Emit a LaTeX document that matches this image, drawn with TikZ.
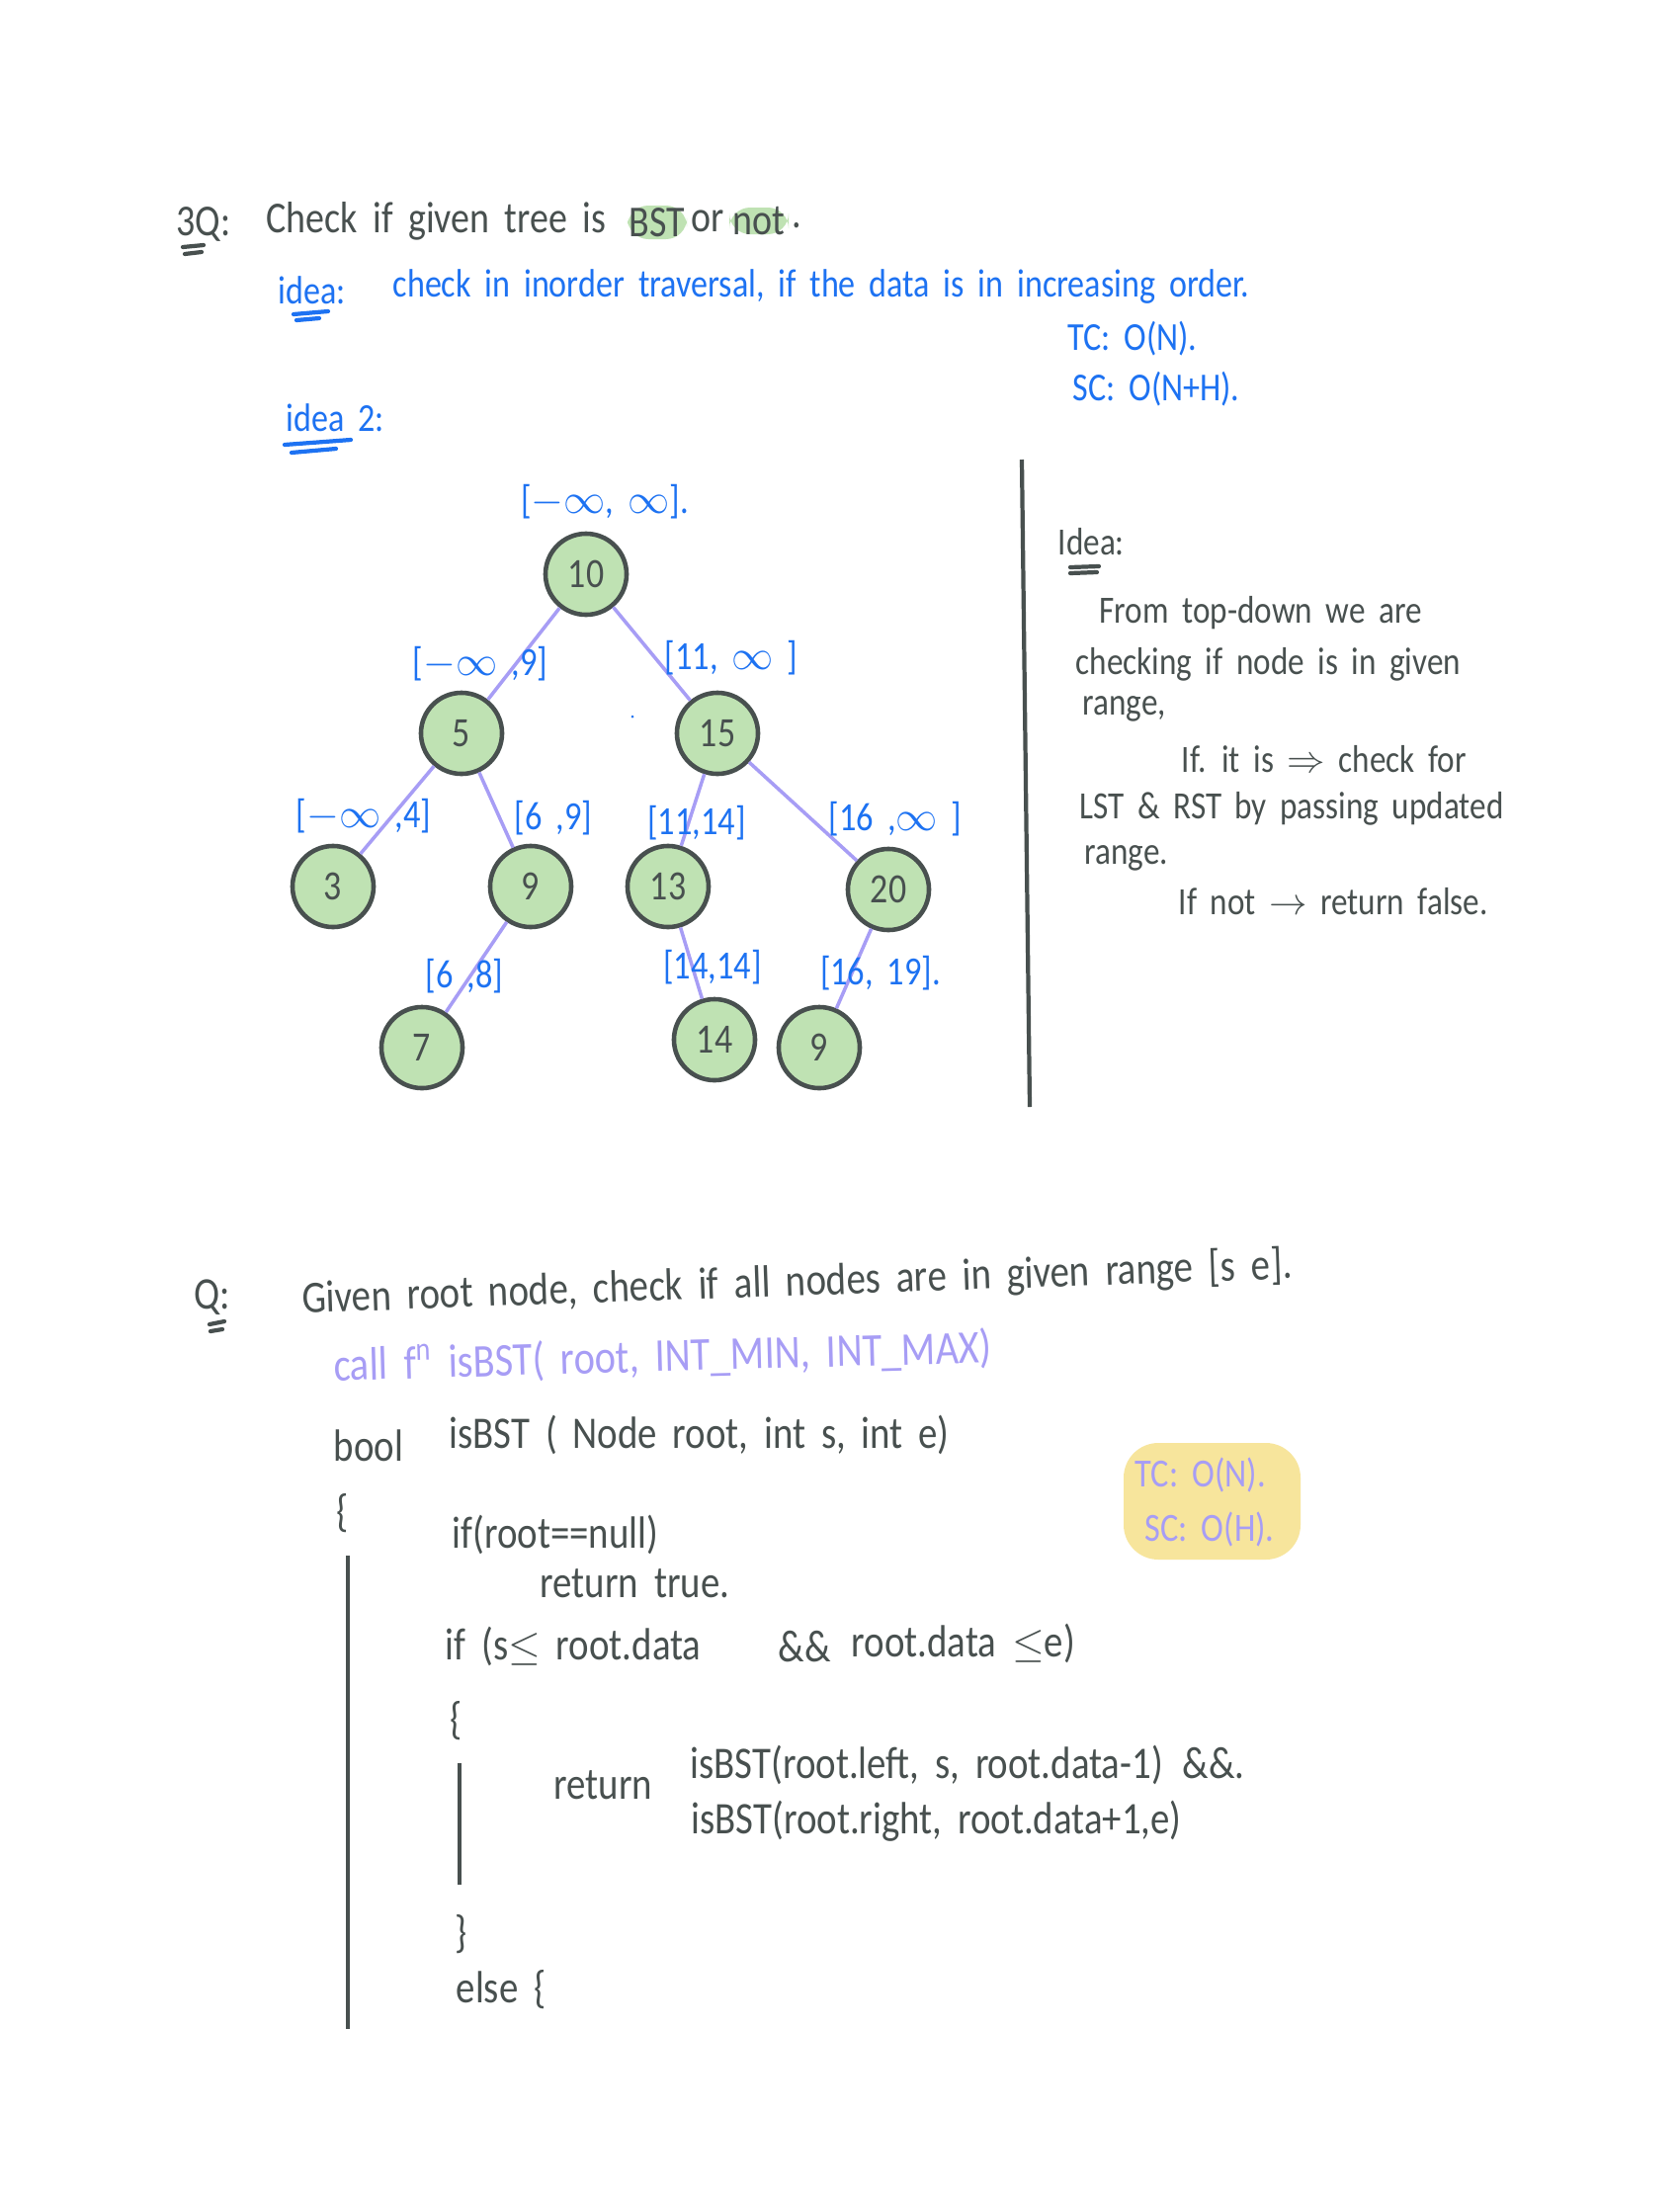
\documentclass[tikz,border=0pt]{standalone}
\usepackage{fontspec}
\setmainfont{Carlito}[FakeStretch=0.85,WordSpace=1.8]
\usetikzlibrary{positioning}

\definecolor{inkgray}{HTML}{48504F}
\definecolor{inkblue}{HTML}{1D72F2}
\definecolor{lavender}{HTML}{A79DF5}
\definecolor{nodegreen}{HTML}{BFE2B3}
\definecolor{notepad}{HTML}{F7E59C}

\begin{document}
\begin{tikzpicture}[x=0.01cm,y=-0.01cm,
    treenode/.style={circle,draw=inkgray,fill=nodegreen,line width=1.3pt,
      minimum size=0.82cm,inner sep=0pt,text=inkgray,font=\fontsize{12}{14}\selectfont},
    treeedge/.style={lavender,line width=1pt},
    rangelabel/.style={text=inkblue,inner sep=0pt,font=\fontsize{11.5}{14}\selectfont},
    titletext/.style={text=inkgray,anchor=west,inner sep=0pt,font=\fontsize{12.7}{15}\selectfont},
    bluetext/.style={text=inkblue,anchor=west,inner sep=0pt,font=\fontsize{11.4}{14}\selectfont},
    notetext/.style={text=inkgray,anchor=west,inner sep=0pt,font=\fontsize{11.1}{13}\selectfont},
    codetext/.style={text=inkgray,anchor=west,inner sep=0pt,font=\fontsize{13}{15}\selectfont},
    calltext/.style={text=lavender,anchor=west,inner sep=0pt,font=\fontsize{13.5}{16}\selectfont},
    boxtext/.style={text=lavender,anchor=west,inner sep=0pt,font=\fontsize{11.5}{14}\selectfont},
    markline/.style={line width=1.2pt,line cap=round}]
  \useasboundingbox[fill=white] (0,0) rectangle (1700,2224);

  % Question heading
  \node[titletext] (q3) at (178,227) {3Q:};
  \draw[markline,inkgray] (185,250) -- (206,248) (187,257) -- (204,255);
  \fill[nodegreen,rounded corners=6pt] (635,208) rectangle (695,242);
  \fill[nodegreen,rounded corners=6pt] (738,210) rectangle (798,237);
  \node[titletext] (ask) at (269,224) {Check if given tree is};
  \node[titletext,anchor=center] (bst) at (665,225) {BST};
  \node[titletext,anchor=center] (or) at (716,224) {or};
  \node[titletext,anchor=center] (not) at (768,224) {not};
  \node[titletext] (dot) at (801,228) {.};

  % First idea
  \node[bluetext] (idea) at (281,294) {idea:};
  \draw[markline,inkblue] (297,318) -- (332,315) (300,324) -- (323,322);
  \node[bluetext] (inorder) at (397,290) {check in inorder traversal, if the data is in increasing order.};
  \node[bluetext] (tc1) at (1080,343) {TC: O(N).};
  \node[bluetext] (sc1) at (1085,394) {SC: O(N+H).};

  % Second idea
  \node[bluetext] (idea2) at (289,423) {idea 2:};
  \draw[markline,inkblue] (288,450) -- (355,445) (295,458) -- (340,454);
  \draw[inkgray,line width=1.2pt] (1034,465) -- (1042,1120);

  % Tree
  \node[treenode] (n10) at (593,581) {10};
  \node[treenode] (n5) at (467,742) {5};
  \node[treenode] (n15) at (726,742) {15};
  \node[treenode] (n3) at (337,897) {3};
  \node[treenode] (n9) at (537,897) {9};
  \node[treenode] (n13) at (676,897) {13};
  \node[treenode] (n20) at (899,900) {20};
  \node[treenode] (n7) at (427,1060) {7};
  \node[treenode] (n14) at (723,1052) {14};
  \node[treenode] (n9b) at (829,1060) {9};
  \foreach \a/\b in {n10/n5,n10/n15,n5/n3,n5/n9,n15/n13,n15/n20,n9/n7,n13/n14,n20/n9b}
    \draw[treeedge] (\a) -- (\b);

  % Ranges passed down
  \node[rangelabel] (r10) at (612,508) {[$-\infty$, $\infty$].};
  \node[rangelabel] (r5) at (486,672) {[$-\infty$ ,9]};
  \node[rangelabel] (r15) at (740,666) {[11, $\infty$ ]};
  \node[rangelabel] (r3) at (368,826) {[$-\infty$ ,4]};
  \node[rangelabel] (r9) at (560,828) {[6 ,9]};
  \node[rangelabel] (r13) at (705,833) {[11,14]};
  \node[rangelabel] (r20) at (906,829) {[16 ,$\infty$ ]};
  \node[rangelabel] (r7) at (470,988) {[6 ,8]};
  \node[rangelabel] (r14) at (721,979) {[14,14]};
  \node[rangelabel] (r9b) at (891,985) {[16, 19].};
  \fill[inkblue] (640,725) circle (1.5);

  % Right-hand note
  \node[notetext] (idea3) at (1070,548) {Idea:};
  \draw[markline,inkgray] (1083,574) -- (1112,573) (1083,580) -- (1110,579);
  \node[notetext] (l1) at (1112,620) {From top-down we are};
  \node[notetext] (l2) at (1088,672) {checking if node is in given};
  \node[notetext] (l3) at (1095,717) {range,};
  \node[notetext] (l4) at (1195,768) {If. it is $\Rightarrow$ check for};
  \node[notetext] (l5) at (1092,818) {LST \& RST by passing updated};
  \node[notetext] (l6) at (1097,868) {range.};
  \node[notetext] (l7) at (1192,912) {If not $\rightarrow$ return false.};

  % Range question
  \node[codetext] (q) at (196,1313) {Q:};
  \draw[markline,inkgray] (212,1340) -- (227,1337) (213,1347) -- (225,1345);
  \node[codetext,rotate=2] (given) at (305,1316) {Given root node, check if all nodes are in given range [s e].};
  \node[calltext,rotate=1.6] (call) at (337,1383) {call f\textsuperscript{n} isBST( root, INT\_MIN, INT\_MAX)};

  % Function body
  \node[codetext] (bool) at (337,1463) {bool};
  \node[codetext] (sig) at (454,1452) {isBST ( Node root, int s, int e)};
  \node[codetext] (open1) at (340,1531) {\{};
  \draw[inkgray,line width=1.2pt] (352,1574) -- (352,2053);
  \node[codetext] (ifnull) at (457,1553) {if(root==null)};
  \node[codetext] (rettrue) at (546,1602) {return true.};
  \node[codetext] (ifrange) at (450,1666) {if (s$\le$ root.data};
  \node[codetext] (andand) at (787,1666) {\&\&};
  \node[codetext] (upper) at (861,1663) {root.data $\le$e)};
  \node[codetext] (open2) at (455,1741) {\{};
  \draw[inkgray,line width=1.2pt] (465,1784) -- (465,1907);
  \node[codetext] (ret) at (560,1806) {return};
  \node[codetext] (left) at (698,1786) {isBST(root.left, s, root.data-1)};
  \node[codetext] (andleft) at (1196,1784) {\&\&.};
  \node[codetext] (right) at (699,1843) {isBST(root.right, root.data+1,e)};
  \node[codetext] (close2) at (460,1957) {\}};
  \node[codetext] (else) at (461,2013) {else \{};

  % Complexity
  \fill[notepad,rounded corners=10pt] (1137,1460) rectangle (1316,1578);
  \node[boxtext] (tc2) at (1148,1492) {TC: O(N).};
  \node[boxtext] (sc2) at (1158,1547) {SC: O(H).};
\end{tikzpicture}
\end{document}
